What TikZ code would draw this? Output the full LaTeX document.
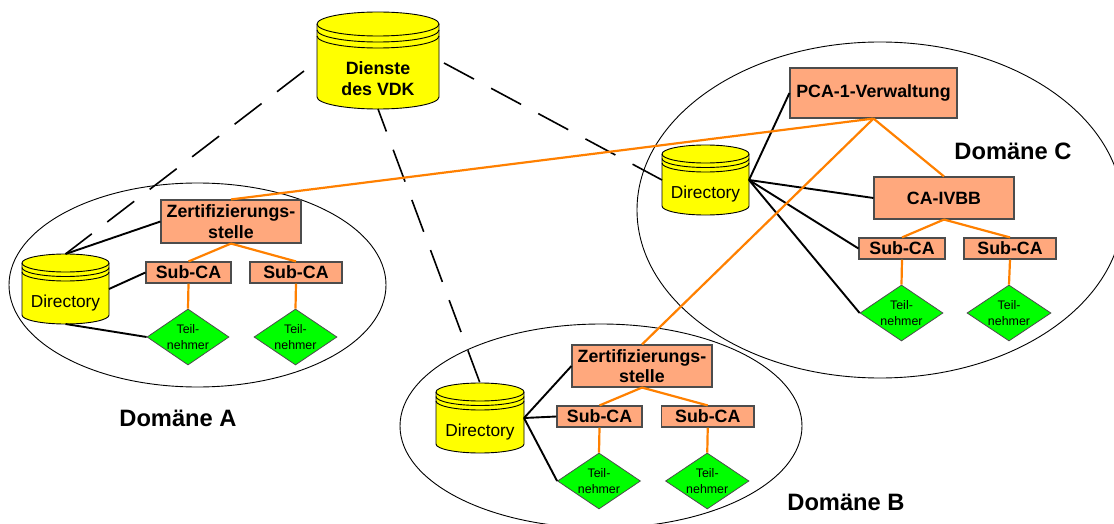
\documentclass[tikz,border=0pt]{standalone}
\usepackage{fontspec}
\setmainfont{Liberation Sans}
\usetikzlibrary{shapes.geometric,calc}
\definecolor{salmon}{HTML}{FFA87D}
\definecolor{orangeline}{HTML}{FF8000}
\definecolor{drumyellow}{HTML}{FFFF00}
\definecolor{membergreen}{HTML}{00FF00}
\tikzset{
  x=1pt,y=-1pt,
  domainring/.style={draw=black,line width=0.9pt},
  cabox/.style={draw=black!70,line width=1.1pt,fill=salmon,inner sep=0pt,align=center,font=\fontsize{17.8}{20.5}\selectfont\bfseries},
  member/.style={diamond,aspect=1.48,draw=black!70,line width=0.8pt,fill=membergreen,inner sep=0pt,align=center,font=\fontsize{12.4}{16}\selectfont},
  cylbody/.style={draw=black,line width=0.9pt,fill=drumyellow},
  cylarc/.style={draw=black,line width=0.9pt},
  cyltext/.style={inner sep=0pt,outer sep=0pt,align=center},
  link/.style={line width=1.9pt,black},
  trust/.style={line width=2.2pt,orangeline},
  access/.style={line width=1.6pt,black,dash pattern=on 34pt off 19.5pt},
  dlabel/.style={font=\fontsize{23.7}{27}\selectfont\bfseries,inner sep=0pt},
}
% name, left, top, right, bottom, ellipse ry, text offset, text options, text
\newcommand{\drum}[9]{%
  \pgfmathsetmacro{\cxx}{(#2+#4)/2}\pgfmathsetmacro{\rxx}{(#4-#2)/2}
  \path[cylbody] (#2,#3+#6) arc[start angle=180,end angle=0,x radius=\rxx,y radius=-#6]
     -- (#4,#5-#6) arc[start angle=0,end angle=-180,x radius=\rxx,y radius=-#6] -- cycle;
  \draw[cylarc] (#2,#3+#6) arc[start angle=180,end angle=360,x radius=\rxx,y radius=-#6];
  \draw[cylarc] (#2,#3+#6+#6/2) arc[start angle=180,end angle=360,x radius=\rxx,y radius=-#6];
  \draw[cylarc] (#2,#3+#6+#6) arc[start angle=180,end angle=360,x radius=\rxx,y radius=-#6];
  \path (#2,#3) -- (#4,#5) node[midway,minimum width=#4pt-#2pt,minimum height=#5pt-#3pt,inner sep=0pt,outer sep=0pt] (#1) {};
  \node[cyltext,#8] (#1t) at (\cxx,{(#3+#5)/2+#7}) {#9};
}
% name, left, top, right, bottom, text
\newcommand{\cabx}[6]{\node[cabox,minimum width=#4pt-#2pt,minimum height=#5pt-#3pt] (#1) at ({(#2+#4)/2},{(#3+#5)/2}) {#6};}
\newcommand{\memb}[5]{\node[member,minimum width=#4pt-#2pt,minimum height=56pt] (#1) at ({(#2+#4)/2},#3) {#5};}
\begin{document}
\begin{tikzpicture}
\useasboundingbox (0,0) rectangle (1114,524);
% domains
\node[domainring,ellipse,minimum width=377pt,minimum height=204pt,inner sep=0pt] (ea) at (197.5,285) {};
\node[domainring,ellipse,minimum width=402pt,minimum height=204pt,inner sep=0pt] (eb) at (601,426) {};
\node[domainring,ellipse,minimum width=486pt,minimum height=336pt,inner sep=0pt] (ec) at (880,210) {};
% drums
\drum{vdk}{317}{12}{439}{109}{12}{18.5}{font=\fontsize{17.8}{21}\selectfont\bfseries}{Dienste\\des VDK}
\drum{da}{22}{254}{109}{324}{9}{14.5}{font=\fontsize{17.3}{21}\selectfont}{Directory}
\drum{db}{436}{383}{524}{453}{9}{14.5}{font=\fontsize{17.3}{21}\selectfont}{Directory}
\drum{dc}{662}{145}{749}{215}{9}{14.5}{font=\fontsize{17.3}{21}\selectfont}{Directory}
% boxes
\cabx{pca}{790}{68}{957}{118}{PCA-1-Verwaltung}
\cabx{ivbb}{874}{177}{1014}{219}{CA-IVBB}
\cabx{zc1}{859}{238}{945}{259}{Sub-CA}
\cabx{zc2}{964}{238}{1056}{259}{Sub-CA}
\cabx{za}{161}{200}{301}{243}{Zertifizierungs-\\stelle}
\cabx{sa1}{146}{262}{231}{283}{Sub-CA}
\cabx{sa2}{250}{262}{342}{283}{Sub-CA}
\cabx{zb}{572}{345}{712}{387}{Zertifizierungs-\\stelle}
\cabx{sb1}{557}{406}{642}{427}{Sub-CA}
\cabx{sb2}{661.5}{406}{754}{427}{Sub-CA}
% members
\memb{ma1}{147}{337}{229}{Teil-\\nehmer}
\memb{ma2}{254}{337}{337}{Teil-\\nehmer}
\memb{mb1}{557.5}{481}{640.5}{Teil-\\nehmer}
\memb{mb2}{665.5}{481}{749}{Teil-\\nehmer}
\memb{mc1}{860}{313}{943}{Teil-\\nehmer}
\memb{mc2}{967}{313}{1051}{Teil-\\nehmer}
% black links
\draw[link] (da.north) -- (za.west);
\draw[link] (da.east) -- (sa1.west);
\draw[link] (da.south) -- (ma1.west);
\draw[link] (db.east) -- (zb.west);
\draw[link] (db.east) -- (sb1.west);
\draw[link] (db.east) -- (mb1.west);
\draw[link] (dc.east) -- (pca.west);
\draw[link] (dc.east) -- (ivbb.west);
\draw[link] (dc.east) -- (zc1.west);
\draw[link] (dc.east) -- (mc1.west);
% dashed
\coordinate (pa) at (304,71);
\coordinate (pc) at (444,63);
\draw[access] (pa) -- (da.north);
\draw[access] (pc) -- (dc.west);
\draw[access,dash phase=10pt] (vdk.south) -- (db.north);
% orange links
\draw[trust] (za.north) -- (pca.south);
\draw[trust] (zb.north) -- (pca.south);
\draw[trust] (pca.south) -- (ivbb.north);
\draw[trust] (ivbb.south) -- (zc1.north);
\draw[trust] (ivbb.south) -- (zc2.north);
\draw[trust] (zc1.south) -- (mc1.north);
\draw[trust] (zc2.south) -- (mc2.north);
\draw[trust] (za.south) -- (sa1.north);
\draw[trust] (za.south) -- (sa2.north);
\draw[trust] (sa1.south) -- (ma1.north);
\draw[trust] (sa2.south) -- (ma2.north);
\draw[trust] (zb.south) -- (sb1.north);
\draw[trust] (zb.south) -- (sb2.north);
\draw[trust] (sb1.south) -- (mb1.north);
\draw[trust] (sb2.south) -- (mb2.north);
% labels
\node[dlabel] (la) at (178,418) {Domäne A};
\node[dlabel] (lb) at (846,502) {Domäne B};
\node[dlabel] (lc) at (1013,151) {Domäne C};
\end{tikzpicture}
\end{document}
